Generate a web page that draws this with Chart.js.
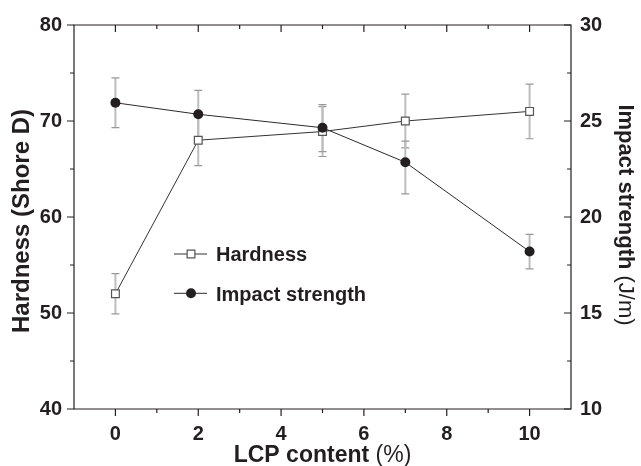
<!DOCTYPE html>
<html>
<head>
<meta charset="utf-8">
<script src="https://cdn.jsdelivr.net/npm/chart.js@4.4.1/dist/chart.umd.min.js"></script>
<style>html,body{margin:0;padding:0;background:#fff}canvas{display:block}</style>
</head>
<body>
<canvas id="c" width="641" height="466"></canvas>
<script>
// ---- data ----
const lcpContent = [0, 2, 5, 7, 10];
const hardness = [52, 68, 68.9, 70, 71];
const hardnessErr = [2.1, 2.65, 2.6, 2.8, 2.85];
const impact = [25.95, 25.35, 24.65, 22.85, 18.2];
const impactErrUp = [1.3, 1.25, 1.2, 1.1, 0.9];
const impactErrDown = [1.3, 1.25, 1.25, 1.65, 0.9];
const xTicks = [0, 2, 4, 6, 8, 10];
const xMinorTicks = [1, 3, 5, 7, 9];
const yTicks = [40, 50, 60, 70, 80];
const yMinorTicks = [45, 55, 65, 75];
const y1Ticks = [10, 15, 20, 25, 30];
const y1MinorTicks = [12.5, 17.5, 22.5, 27.5];
const xTitle = ['LCP content ', '(%)'];
const yTitle = 'Hardness (Shore D)';
const y1Title = ['Impact strength ', '(J/m)'];
const seriesNames = ['Hardness', 'Impact strength'];

// ---- style ----
const FONT = '"Liberation Sans", Arial, Helvetica, sans-serif';
const INK = '#231f20';

const framePlugin = {
  id: 'frame',
  beforeDatasetsDraw(chart) {
    const ctx = chart.ctx;
    const xs = chart.scales.x;
    const bars = [
      { scale: chart.scales.y, vals: hardness, up: hardnessErr, down: hardnessErr },
      { scale: chart.scales.y1, vals: impact, up: impactErrUp, down: impactErrDown }
    ];
    ctx.save();
    bars.forEach(b => {
      b.vals.forEach((v, i) => {
        const px = xs.getPixelForValue(lcpContent[i]);
        const top = b.scale.getPixelForValue(v + b.up[i]);
        const bot = b.scale.getPixelForValue(v - b.down[i]);
        ctx.strokeStyle = '#bdbdbd';
        ctx.lineWidth = 2;
        ctx.beginPath(); ctx.moveTo(px, top); ctx.lineTo(px, bot); ctx.stroke();
        ctx.strokeStyle = '#999999';
        ctx.lineWidth = 1.2;
        ctx.beginPath();
        ctx.moveTo(px - 4, top); ctx.lineTo(px + 4, top);
        ctx.moveTo(px - 4, bot); ctx.lineTo(px + 4, bot);
        ctx.stroke();
      });
    });
    ctx.restore();
  },
  afterDraw(chart) {
    const ctx = chart.ctx;
    const a = chart.chartArea;
    const xs = chart.scales.x, ys = chart.scales.y, y1 = chart.scales.y1;
    ctx.save();
    ctx.strokeStyle = INK;
    ctx.lineWidth = 1.2;
    ctx.beginPath();
    ctx.rect(a.left, a.top, a.right - a.left, a.bottom - a.top);
    ctx.stroke();
    ctx.beginPath();
    xTicks.forEach(v => { const p = xs.getPixelForValue(v);
      ctx.moveTo(p, a.bottom); ctx.lineTo(p, a.bottom + 7);
      ctx.moveTo(p, a.top); ctx.lineTo(p, a.top + 7); });
    xMinorTicks.forEach(v => { const p = xs.getPixelForValue(v);
      ctx.moveTo(p, a.bottom); ctx.lineTo(p, a.bottom + 4);
      ctx.moveTo(p, a.top); ctx.lineTo(p, a.top + 4); });
    yTicks.forEach(v => { const p = ys.getPixelForValue(v);
      ctx.moveTo(a.left - 7, p); ctx.lineTo(a.left, p); });
    yMinorTicks.forEach(v => { const p = ys.getPixelForValue(v);
      ctx.moveTo(a.left - 4, p); ctx.lineTo(a.left, p); });
    y1Ticks.forEach(v => { const p = y1.getPixelForValue(v);
      ctx.moveTo(a.right - 7, p); ctx.lineTo(a.right, p); });
    y1MinorTicks.forEach(v => { const p = y1.getPixelForValue(v);
      ctx.moveTo(a.right - 4, p); ctx.lineTo(a.right, p); });
    ctx.stroke();

    ctx.fillStyle = INK;
    // x title (mixed weight)
    ctx.font = 'bold 23px ' + FONT;
    const w1 = ctx.measureText(xTitle[0]).width;
    ctx.font = '23px ' + FONT;
    const w2 = ctx.measureText(xTitle[1]).width;
    const cx = (a.left + a.right) / 2;
    const sx = cx - (w1 + w2) / 2;
    ctx.textAlign = 'left';
    ctx.textBaseline = 'alphabetic';
    ctx.font = 'bold 23px ' + FONT;
    ctx.fillText(xTitle[0], sx, 461.5);
    ctx.font = '23px ' + FONT;
    ctx.fillText(xTitle[1], sx + w1, 461.5);

    // left title
    ctx.save();
    ctx.translate(22.5, (a.top + a.bottom) / 2 + 4);
    ctx.rotate(-Math.PI / 2);
    ctx.textAlign = 'center';
    ctx.textBaseline = 'middle';
    ctx.font = 'bold 24px ' + FONT;
    ctx.fillText(yTitle, 0, 0);
    ctx.restore();

    // right title
    ctx.save();
    ctx.translate(625, (a.top + a.bottom) / 2 - 2);
    ctx.rotate(Math.PI / 2);
    ctx.font = 'bold 22px ' + FONT;
    const r1 = ctx.measureText(y1Title[0]).width;
    ctx.font = '22px ' + FONT;
    const r2 = ctx.measureText(y1Title[1]).width;
    ctx.textAlign = 'left';
    ctx.textBaseline = 'middle';
    ctx.font = 'bold 22px ' + FONT;
    ctx.fillText(y1Title[0], -(r1 + r2) / 2, 0);
    ctx.font = '22px ' + FONT;
    ctx.fillText(y1Title[1], -(r1 + r2) / 2 + r1, 0);
    ctx.restore();

    // legend
    const items = [
      { y: 254, ds: chart.data.datasets[0] },
      { y: 293.3, ds: chart.data.datasets[1] }
    ];
    items.forEach(it => {
      const ds = it.ds;
      ctx.strokeStyle = ds.borderColor;
      ctx.lineWidth = 1;
      ctx.beginPath(); ctx.moveTo(174, it.y); ctx.lineTo(207, it.y); ctx.stroke();
      ctx.fillStyle = ds.pointBackgroundColor;
      ctx.strokeStyle = ds.pointBorderColor;
      ctx.lineWidth = ds.pointBorderWidth;
      ctx.beginPath();
      if (ds.pointStyle === 'rect') {
        const s = Math.SQRT1_2 * ds.pointRadius;
        ctx.rect(191 - s, it.y - s, 2 * s, 2 * s);
      } else {
        ctx.arc(191, it.y, ds.pointRadius, 0, Math.PI * 2);
      }
      ctx.fill();
      if (ds.pointBorderWidth > 0) ctx.stroke();
      ctx.fillStyle = INK;
      ctx.font = 'bold 20px ' + FONT;
      ctx.textAlign = 'left';
      ctx.textBaseline = 'alphabetic';
      ctx.fillText(ds.label, 216, it.y + 7.2);
    });
    ctx.restore();
  }
};

const tickFont = { family: FONT, size: 20, weight: 'bold' };

new Chart(document.getElementById('c'), {
  type: 'line',
  data: {
    datasets: [
      {
        label: seriesNames[0],
        data: lcpContent.map((x, i) => ({ x, y: hardness[i] })),
        yAxisID: 'y', order: 1,
        borderColor: '#333333', borderWidth: 1, tension: 0, fill: false,
        pointStyle: 'rect', pointRadius: 5.5,
        pointBackgroundColor: '#ffffff', pointBorderColor: '#555555', pointBorderWidth: 1.2
      },
      {
        label: seriesNames[1],
        data: lcpContent.map((x, i) => ({ x, y: impact[i] })),
        yAxisID: 'y1', order: 0,
        borderColor: '#2a2a2a', borderWidth: 1, tension: 0, fill: false,
        pointStyle: 'circle', pointRadius: 5,
        pointBackgroundColor: INK, pointBorderColor: INK, pointBorderWidth: 0
      }
    ]
  },
  options: {
    responsive: false, animation: false, events: [],
    layout: { padding: { top: 25, left: 0, right: 0, bottom: 0 } },
    plugins: { legend: { display: false }, tooltip: { enabled: false } },
    scales: {
      x: {
        type: 'linear', position: 'bottom', min: -1, max: 11,
        afterBuildTicks: s => { s.ticks = xTicks.map(v => ({ value: v })); },
        afterFit: s => { s.height = 57; s.paddingLeft = 0; s.paddingRight = 0; },
        grid: { display: false, drawTicks: false }, border: { display: false },
        ticks: { padding: 13, font: tickFont, color: INK, maxRotation: 0, autoSkip: false }
      },
      y: {
        type: 'linear', position: 'left', min: 40, max: 80,
        afterBuildTicks: s => { s.ticks = yTicks.map(v => ({ value: v })); },
        afterFit: s => { s.width = 74; s.paddingTop = 0; s.paddingBottom = 0; },
        grid: { display: false, drawTicks: false }, border: { display: false },
        ticks: { padding: 12, font: tickFont, color: INK, autoSkip: false }
      },
      y1: {
        type: 'linear', position: 'right', min: 10, max: 30,
        afterBuildTicks: s => { s.ticks = y1Ticks.map(v => ({ value: v })); },
        afterFit: s => { s.width = 70; s.paddingTop = 0; s.paddingBottom = 0; },
        grid: { display: false, drawTicks: false }, border: { display: false },
        ticks: { padding: 9, font: tickFont, color: INK, autoSkip: false }
      }
    }
  },
  plugins: [framePlugin]
});
</script>
</body>
</html>
